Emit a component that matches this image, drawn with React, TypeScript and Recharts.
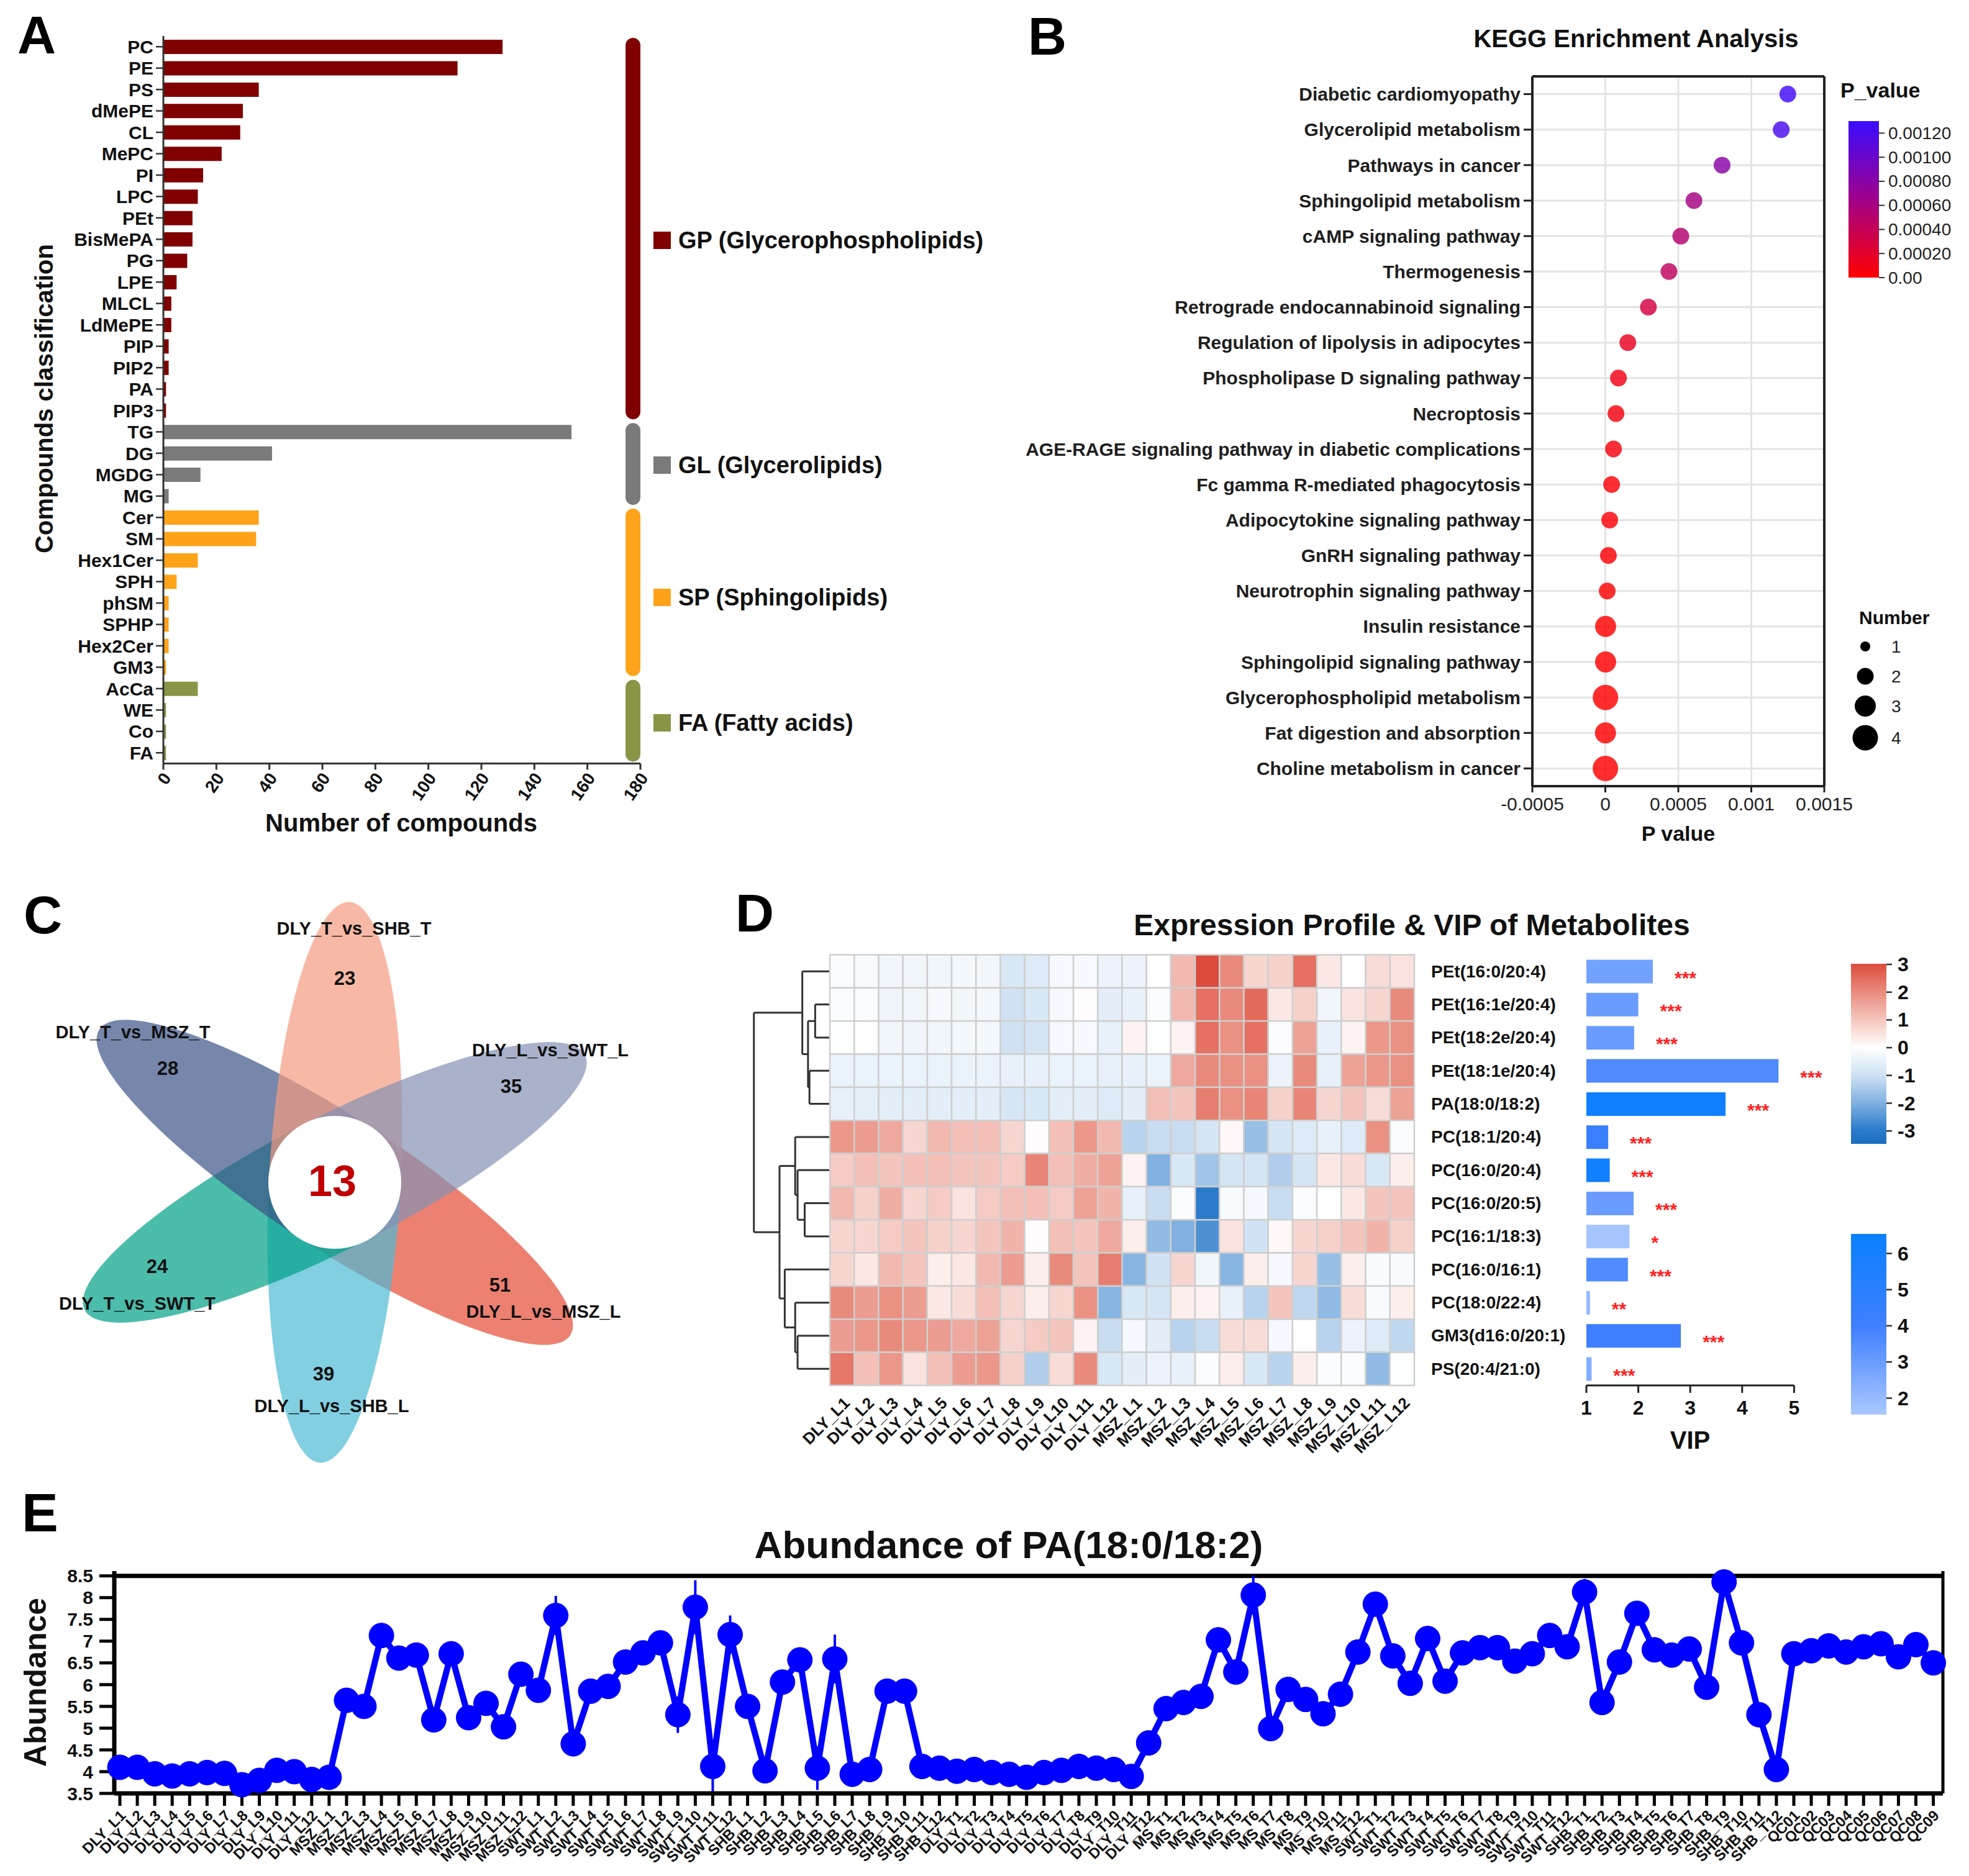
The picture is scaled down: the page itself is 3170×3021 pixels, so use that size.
import React from 'react';
import {
  BarChart, Bar, XAxis, YAxis, Cell, ReferenceArea, ReferenceLine,
  ScatterChart, Scatter, CartesianGrid, LineChart, Line, LabelList, ErrorBar,
} from 'recharts';

const FONT = '"Liberation Sans", Arial, Helvetica, sans-serif';

/* ---------------- colour helpers ---------------- */
type Stop = [number, string];
const hexToRgb = (h: string) => [1, 3, 5].map((k) => parseInt(h.slice(k, k + 2), 16));
const rgbToHex = (c: number[]) => '#' + c.map((v) => Math.round(Math.max(0, Math.min(255, v))).toString(16).padStart(2, '0')).join('');
function rampColor(stops: Stop[], v: number): string {
  if (v <= stops[0][0]) return stops[0][1];
  for (let i = 1; i < stops.length; i++) {
    if (v <= stops[i][0]) {
      const [v0, c0] = stops[i - 1];
      const [v1, c1] = stops[i];
      const t = (v - v0) / (v1 - v0);
      const a = hexToRgb(c0);
      const b = hexToRgb(c1);
      return rgbToHex(a.map((x, k) => x + (b[k] - x) * t));
    }
  }
  return stops[stops.length - 1][1];
}

/* ---------------- Panel A data ---------------- */
const classNames = ['PC', 'PE', 'PS', 'dMePE', 'CL', 'MePC', 'PI', 'LPC', 'PEt', 'BisMePA', 'PG', 'LPE', 'MLCL', 'LdMePE', 'PIP', 'PIP2', 'PA', 'PIP3',
  'TG', 'DG', 'MGDG', 'MG',
  'Cer', 'SM', 'Hex1Cer', 'SPH', 'phSM', 'SPHP', 'Hex2Cer', 'GM3',
  'AcCa', 'WE', 'Co', 'FA'];
const classCounts = [128, 111, 36, 30, 29, 22, 15, 13, 11, 11, 9, 5, 3, 3, 2, 2, 1, 1,
  154, 41, 14, 2,
  36, 35, 13, 5, 2, 2, 2, 1,
  13, 1, 1, 1];
const classGroup = ['GP', 'GP', 'GP', 'GP', 'GP', 'GP', 'GP', 'GP', 'GP', 'GP', 'GP', 'GP', 'GP', 'GP', 'GP', 'GP', 'GP', 'GP',
  'GL', 'GL', 'GL', 'GL',
  'SP', 'SP', 'SP', 'SP', 'SP', 'SP', 'SP', 'SP',
  'FA', 'FA', 'FA', 'FA'];
const groupKeys = ['GP', 'GL', 'SP', 'FA'];
const groupAbbr = ['GP', 'GL', 'SP', 'FA'];
const groupFull = ['(Glycerophospholipids)', '(Glycerolipids)', '(Sphingolipids)', '(Fatty acids)'];
const groupColors = ['#800000', '#7a7a7a', '#ffa31a', '#8a9446'];
const groupLegendY = [387, 749, 962, 1164];
const countTicks = [0, 20, 40, 60, 80, 100, 120, 140, 160, 180];

/* ---------------- Panel B data ---------------- */
const pathways = ['Diabetic cardiomyopathy', 'Glycerolipid metabolism', 'Pathways in cancer', 'Sphingolipid metabolism',
  'cAMP signaling pathway', 'Thermogenesis', 'Retrograde endocannabinoid signaling', 'Regulation of lipolysis in adipocytes',
  'Phospholipase D signaling pathway', 'Necroptosis', 'AGE-RAGE signaling pathway in diabetic complications',
  'Fc gamma R-mediated phagocytosis', 'Adipocytokine signaling pathway', 'GnRH signaling pathway',
  'Neurotrophin signaling pathway', 'Insulin resistance', 'Sphingolipid signaling pathway',
  'Glycerophospholipid metabolism', 'Fat digestion and absorption', 'Choline metabolism in cancer'];
const pValues = [0.00125, 0.001205, 0.0008, 0.000607, 0.000517, 0.000436, 0.000295, 0.000154, 0.00009, 0.000073,
  0.000056, 0.000043, 0.00003, 0.000021, 0.000013, 0.000002, 0.000002, 0.000001, 0.000001, 0.0000005];
const hitNumbers = [2, 2, 2, 2, 2, 2, 2, 2, 2, 2, 2, 2, 2, 2, 2, 3, 3, 4, 3, 4];
const pTicks = [-0.0005, 0, 0.0005, 0.001, 0.0015];
const pLegendTicks = [0.0012, 0.001, 0.0008, 0.0006, 0.0004, 0.0002, 0];
const pLegendLabels = ['0.00120', '0.00100', '0.00080', '0.00060', '0.00040', '0.00020', '0.00'];
const numberLegend = [1, 2, 3, 4];
const numberRadius = [0, 8, 13.5, 17, 20.5];
const pStops: Stop[] = [[0, '#ff0000'], [0.00065, '#a0008a'], [0.0013, '#3a0cff']];

/* ---------------- Panel C data (drawn bottom → top) ---------------- */
const vennSets = ['DLY_L_vs_MSZ_L', 'DLY_L_vs_SHB_L', 'DLY_T_vs_SWT_T', 'DLY_T_vs_MSZ_T', 'DLY_T_vs_SHB_T', 'DLY_L_vs_SWT_L'];
const vennUnique = [51, 39, 24, 28, 23, 35];
const vennCore = 13;
const vennColors = ['#E64B35', '#4DBBD5', '#00A087', '#3C5488', '#F39B7F', '#8491B4'];
const vennAngles = [33, 93, 153, 213, -87, -27];
const vennLabelPos = [[875, 2112], [534, 2264], [221, 2099], [214, 1662], [570, 1495], [886, 1691]];
const vennCountPos = [[805, 2069], [521, 2212], [253, 2039], [270, 1720], [555, 1575], [823, 1749]];

/* ---------------- Panel D data ---------------- */
const heatRows = ['PEt(16:0/20:4)', 'PEt(16:1e/20:4)', 'PEt(18:2e/20:4)', 'PEt(18:1e/20:4)', 'PA(18:0/18:2)',
  'PC(18:1/20:4)', 'PC(16:0/20:4)', 'PC(16:0/20:5)', 'PC(16:1/18:3)', 'PC(16:0/16:1)', 'PC(18:0/22:4)',
  'GM3(d16:0/20:1)', 'PS(20:4/21:0)'];
const heatCols = ['DLY_L1', 'DLY_L2', 'DLY_L3', 'DLY_L4', 'DLY_L5', 'DLY_L6', 'DLY_L7', 'DLY_L8', 'DLY_L9', 'DLY_L10', 'DLY_L11', 'DLY_L12',
  'MSZ_L1', 'MSZ_L2', 'MSZ_L3', 'MSZ_L4', 'MSZ_L5', 'MSZ_L6', 'MSZ_L7', 'MSZ_L8', 'MSZ_L9', 'MSZ_L10', 'MSZ_L11', 'MSZ_L12'];
const heatValues = [
  [-0.1, -0.15, -0.3, -0.3, -0.3, -0.25, -0.3, -0.8, -0.7, -0.2, -0.2, -0.4, -0.4, 0, 1.2, 3.0, 2.0, 0.7, 0.8, 2.4, 0.4, 0, 0.6, 0.5],
  [-0.1, -0.1, -0.35, -0.3, -0.2, -0.3, -0.25, -1.0, -0.8, -0.2, 0.05, -0.6, -0.5, -0.1, 1.2, 2.4, 2.0, 2.5, 0.4, 0.8, -0.3, 0.5, 0.7, 2.0],
  [-0.05, 0, -0.3, -0.35, -0.3, -0.25, -0.25, -1.0, -0.9, -0.2, -0.2, -0.5, 0.2, -0.05, 0.2, 2.4, 1.9, 2.4, -0.1, 1.6, -0.5, 0.2, 1.8, 1.9],
  [-0.45, -0.45, -0.45, -0.45, -0.45, -0.45, -0.45, -0.5, -0.5, -0.45, -0.45, -0.5, -0.5, -0.45, 1.5, 2.0, 1.9, 1.9, -0.4, 2.0, -0.5, 1.6, 1.8, 1.9],
  [-0.5, -0.55, -0.6, -0.6, -0.6, -0.6, -0.6, -0.85, -0.8, -0.6, -0.6, -0.7, -0.6, 1.1, 1.0, 2.2, 1.9, 2.1, 0.8, 2.1, 0.7, 1.0, 0.6, 1.6],
  [1.8, 1.7, 1.5, 0.7, 1.2, 1.1, 1.1, 0.7, 0.05, 1.1, 1.8, 1.2, -1.3, -1.1, -1.1, -0.9, 0.1, -1.7, -0.9, -0.7, -0.5, -0.7, 1.9, -0.1],
  [0.9, 1.1, 1.0, 1.1, 1.1, 1.0, 1.0, 0.9, 2.1, 1.1, 1.4, 1.6, 0.2, -2.0, -0.8, -1.6, -0.9, -0.9, -1.4, -0.9, 0.4, 0.6, -0.8, 0.3],
  [1.2, 0.8, 1.4, 0.7, 0.9, 0.5, 0.9, 1.1, 1.1, 0.9, 1.6, 1.3, -0.5, -1.1, -0.1, -3.0, -0.15, -0.2, -1.1, -0.1, 0, 0.4, 1.0, 1.0],
  [0.7, 0.7, 0.9, 1.0, 0.8, 0.7, 1.0, 1.3, 0.05, 1.1, 1.0, 1.5, 0.3, -1.8, -2.0, -2.6, 0.5, -1.0, 0.1, 0.7, 0.8, 1.0, 1.3, 0.8],
  [0.7, 0.4, 1.2, 1.0, 0.3, 0.4, 1.2, 1.7, 0.3, 2.0, 1.0, 2.2, -1.9, -1.0, 0.7, -0.3, -1.9, 0.3, -0.2, 0.7, -1.7, 0.3, -0.15, -0.15],
  [2.0, 1.7, 1.9, 1.7, 0.4, 0.6, 1.1, 0.7, 0.3, 0.7, 1.9, -1.9, -0.8, -0.9, 0.3, 0.2, -0.5, -1.3, 1.0, -1.2, -1.8, 0.6, -0.15, 0.3],
  [1.7, 1.8, 2.0, 1.8, 1.7, 1.5, 1.6, 0.7, 0.9, 1.0, 0.2, -1.1, -0.2, -0.6, -1.3, -1.1, 0.6, 0.6, -0.2, 0, -1.3, -0.4, -0.7, -1.2],
  [2.3, 1.1, 1.8, 0.5, 1.1, 1.7, 1.8, 0.8, -1.4, 0.6, 2.0, -0.8, -0.6, -0.4, -0.5, -0.1, 0.3, -0.8, -1.3, 0.3, -0.1, -0.1, -1.8, -0.05],
];
// hierarchical clustering of rows: children are leaf indices (numbers) or earlier merges ('m<k>'), dist = linkage height
const dendroMerges: { a: number | string; b: number | string; dist: number }[] = [
  { a: 1, b: 2, dist: 2.37 },
  { a: 3, b: 4, dist: 3.29 },
  { a: 'm0', b: 'm1', dist: 3.52 },
  { a: 0, b: 'm2', dist: 4.44 },
  { a: 7, b: 8, dist: 4.06 },
  { a: 6, b: 'm4', dist: 5.2 },
  { a: 5, b: 'm5', dist: 5.59 },
  { a: 11, b: 12, dist: 5.2 },
  { a: 10, b: 'm7', dist: 5.59 },
  { a: 9, b: 'm8', dist: 7.27 },
  { a: 'm6', b: 'm9', dist: 8.11 },
  { a: 'm3', b: 'm10', dist: 12.24 },
];
const heatStops: Stop[] = [[-3.5, '#1c6cbf'], [-3, '#2b7bca'], [-2, '#80b1e1'], [-1, '#d0e2f3'], [0, '#ffffff'], [1, '#f4c5bd'], [2, '#e98b7c'], [3, '#dc4b3c']];
const heatLegendTicks = [3, 2, 1, 0, -1, -2, -3];
const vipValues = [2.28, 2.0, 1.92, 4.7, 3.68, 1.42, 1.45, 1.91, 1.83, 1.8, 1.07, 2.82, 1.1];
const vipStars = ['***', '***', '***', '***', '***', '***', '***', '***', '*', '***', '**', '***', '***'];
const vipShade = [2.8, 3.0, 3.0, 3.6, 6.3, 4.3, 6.2, 3.0, 1.6, 3.6, 2.0, 4.0, 2.4];
const vipTicks = [1, 2, 3, 4, 5];
const vipStops: Stop[] = [[1.5, '#aac8ff'], [4, '#3f7fff'], [6.5, '#0a80ff']];
const vipLegendTicks = [6, 5, 4, 3, 2];

/* ---------------- Panel E data ---------------- */
const eGroupNames = ['DLY_L', 'MSZ_L', 'SWT_L', 'SHB_L', 'DLY_T', 'MS_T', 'SWT_T', 'SHB_T'];
const eSampleNums = [1, 2, 3, 4, 5, 6, 7, 8, 9, 10, 11, 12];
const eQCNames = ['QC01', 'QC02', 'QC03', 'QC04', 'QC05', 'QC06', 'QC07', 'QC08', 'QC09'];
const eDLY_L = [4.1, 4.1, 3.95, 3.9, 3.95, 3.98, 3.96, 3.7, 3.8, 4.03, 4.0, 3.82];
const eMSZ_L = [3.87, 5.64, 5.5, 7.13, 6.61, 6.68, 5.19, 6.71, 5.24, 5.57, 5.03, 6.24];
const eSWT_L = [5.87, 7.59, 4.64, 5.85, 5.96, 6.52, 6.73, 6.96, 5.31, 7.78, 4.12, 7.15];
const eSHB_L = [5.5, 4.02, 6.06, 6.57, 4.08, 6.59, 3.94, 4.05, 5.85, 5.85, 4.12, 4.08];
const eDLY_T = [4.01, 4.05, 3.98, 3.94, 3.87, 3.98, 4.03, 4.12, 4.08, 4.05, 3.89, 4.66];
const eMS_T = [5.45, 5.59, 5.73, 7.03, 6.29, 8.06, 4.99, 5.89, 5.66, 5.33, 5.78, 6.75];
const eSWT_T = [7.85, 6.66, 6.03, 7.06, 6.08, 6.73, 6.85, 6.85, 6.54, 6.71, 7.13, 6.87];
const eSHB_T = [8.13, 5.59, 6.52, 7.64, 6.8, 6.68, 6.82, 5.94, 8.36, 6.96, 5.31, 4.05];
const eQC = [6.71, 6.78, 6.89, 6.75, 6.87, 6.94, 6.64, 6.92, 6.5];
const eErrors: Record<number, number> = { 7: 0.2, 8: 0.25, 25: 0.45, 32: 0.42, 33: 0.62, 34: 0.6, 35: 0.44, 40: 0.5, 41: 0.56, 65: 0.45, 84: 0.3, 92: 0.25 };
const eYTicks = [3.5, 4, 4.5, 5, 5.5, 6, 6.5, 7, 7.5, 8, 8.5];

/* ---------------- derived tables ---------------- */
const aData = classNames.map((name, i) => ({ name, value: classCounts[i], group: classGroup[i] }));
const bData = pathways.map((name, i) => ({ name, x: pValues[i], y: i, n: hitNumbers[i] }));
const heatData = heatValues.flatMap((row, r) => row.map((v, c) => ({ x: c + 0.5, y: r + 0.5, v })));
const heatColTicks = heatCols.map((_, c) => c + 0.5);
const vipData = heatRows.map((name, i) => ({ name, vip: vipValues[i], stars: vipStars[i], shade: vipShade[i] }));
const eLabels: string[] = [];
eGroupNames.forEach((g) => eSampleNums.forEach((n) => eLabels.push(g + n)));
eQCNames.forEach((q) => eLabels.push(q));
const eValues = [...eDLY_L, ...eMSZ_L, ...eSWT_L, ...eSHB_L, ...eDLY_T, ...eMS_T, ...eSWT_T, ...eSHB_T, ...eQC];
const eData = eValues.map((v, i) => ({ i, v, err: eErrors[i] ?? 0 }));
const eXTicks = eValues.map((_, i) => i);

// dendrogram segments in heat-chart data units (x < 0 is left of the heatmap)
const DENDRO_SPAN = 3.12;
const maxDist = Math.max(...dendroMerges.map((m) => m.dist));
const dendroSegments: { x1: number; y1: number; x2: number; y2: number }[] = [];
(() => {
  const pos: { x: number; y: number }[] = [];
  const nodeOf = (k: number | string) => (typeof k === 'number' ? { x: 0, y: k + 0.5 } : pos[parseInt(k.slice(1), 10)]);
  dendroMerges.forEach((m) => {
    const A = nodeOf(m.a);
    const B = nodeOf(m.b);
    const hx = -(m.dist / maxDist) * DENDRO_SPAN;
    dendroSegments.push({ x1: hx, y1: A.y, x2: hx, y2: B.y });
    dendroSegments.push({ x1: A.x, y1: A.y, x2: hx, y2: A.y });
    dendroSegments.push({ x1: B.x, y1: B.y, x2: hx, y2: B.y });
    pos.push({ x: hx, y: (A.y + B.y) / 2 });
  });
})();

/* ---------------- layout constants ---------------- */
const HEAT_W = 1150;
const HEAT_H = 960;
const HEAT_MARGIN = { top: 117.5, right: 23, bottom: 19, left: 60.6 };
const HEAT_XAXIS_H = 130;
const HEAT_DOMAIN: [number, number] = [-3.2, 24];
const CELL_W = (HEAT_W - HEAT_MARGIN.left - HEAT_MARGIN.right) / (HEAT_DOMAIN[1] - HEAT_DOMAIN[0]);
const CELL_H = (HEAT_H - HEAT_MARGIN.top - HEAT_MARGIN.bottom - HEAT_XAXIS_H) / heatRows.length;

/* ---------------- tick renderers ---------------- */
const ATick = (p: any) => {
  const x = p.x + 6;
  const y = p.y + 4;
  return (
    <text x={x} y={y} transform={`rotate(-55 ${x} ${y})`} textAnchor="end" dominantBaseline="central"
      fontSize={28} fontWeight="bold" fill="#111" fontFamily={FONT}>{p.payload.value}</text>
  );
};
const HeatTick = (p: any) => {
  const idx = Math.round(p.payload.value - 0.5);
  const x = p.x + 14;
  const y = p.y + 30;
  return (
    <text x={x} y={y} transform={`rotate(-45 ${x} ${y})`} textAnchor="end" fontSize={26} fontWeight="bold" fill="#111" fontFamily={FONT}>
      {heatCols[idx]}
    </text>
  );
};
const VipRowTick = (p: any) => (
  <text x={14} y={p.y} dominantBaseline="central" textAnchor="start" fontSize={28} fontWeight="bold" fill="#111" fontFamily={FONT}>
    {p.payload.value}
  </text>
);
const ETick = (p: any) => {
  const x = p.x + 11;
  const y = p.y + 13;
  return (
    <text x={x} y={y} transform={`rotate(-45 ${x} ${y})`} textAnchor="end" fontSize={24} fontWeight="bold" fill="#111" fontFamily={FONT}>
      {eLabels[p.payload.value]}
    </text>
  );
};

/* ---------------- shapes ---------------- */
const pillShape = (color: string) => (p: any) => {
  const inset = 3;
  const h = Math.max(0, p.height - inset * 2);
  return <rect x={p.x} y={p.y + inset} width={p.width} height={h} rx={p.width / 2} ry={p.width / 2} fill={color} />;
};
const bDot = (p: any) => {
  const n = p.payload?.n ?? 2;
  const r = numberRadius[n];
  return <circle cx={p.cx} cy={p.cy} r={r} fill={rampColor(pStops, p.payload.x)} fillOpacity={0.82} />;
};
const heatCell = (p: any) => (
  <rect x={p.cx - CELL_W / 2} y={p.cy - CELL_H / 2} width={CELL_W} height={CELL_H}
    fill={rampColor(heatStops, p.payload.v)} stroke="#cfcfcf" strokeWidth={2.5} />
);
const StarLabel = (p: any) => (
  <text x={p.x + p.width + 35} y={p.y + p.height / 2 + 20} fill="#ff2020" fontSize={30} fontWeight="bold" fontFamily={FONT}>
    {p.value}
  </text>
);

/* ---------------- panels ---------------- */
function PanelA() {
  return (
    <div style={{ position: 'absolute', left: 0, top: 0 }}>
      <BarChart width={1100} height={1400} data={aData} layout="vertical" margin={{ top: 58, right: 69, bottom: 70.5, left: 0 }}>
        <XAxis type="number" domain={[0, 180]} ticks={countTicks} interval={0} height={100}
          axisLine={{ stroke: '#333', strokeWidth: 3 }} tickLine={{ stroke: '#333', strokeWidth: 3 }} tickSize={10} tickMargin={4}
          tick={ATick} />
        <YAxis type="category" dataKey="name" width={263} interval={0}
          axisLine={{ stroke: '#333', strokeWidth: 3 }} tickLine={{ stroke: '#333', strokeWidth: 2.5 }} tickSize={12} tickMargin={4}
          tick={{ fontSize: 30, fontWeight: 'bold', fill: '#111', fontFamily: FONT }} />
        {groupKeys.map((g, gi) => {
          const members = classNames.filter((_, i) => classGroup[i] === g);
          return (
            <ReferenceArea key={g} x1={174.4} x2={180} y1={members[0]} y2={members[members.length - 1]}
              ifOverflow="visible" shape={pillShape(groupColors[gi])} />
          );
        })}
        <Bar dataKey="value" barSize={23} isAnimationActive={false}>
          {aData.map((d, i) => (
            <Cell key={i} fill={groupColors[groupKeys.indexOf(d.group)]} />
          ))}
        </Bar>
      </BarChart>
    </div>
  );
}

function PanelB() {
  return (
    <div style={{ position: 'absolute', left: 1600, top: 0 }}>
      <ScatterChart width={1570} height={1400} margin={{ top: 123, right: 233, bottom: 64, left: 0 }}>
        <CartesianGrid stroke="#e4e4e4" strokeWidth={3} />
        <XAxis type="number" dataKey="x" domain={[-0.0005, 0.0015]} ticks={pTicks} interval={0} height={70}
          tickFormatter={(v: number) => String(v)}
          axisLine={{ stroke: '#222', strokeWidth: 4 }} tickLine={{ stroke: '#222', strokeWidth: 3 }} tickSize={10} tickMargin={8}
          tick={{ fontSize: 30, fill: '#222', fontFamily: FONT }} />
        <YAxis type="number" dataKey="y" domain={[-0.5, 19.5]} reversed ticks={pathways.map((_, i) => i)} interval={0} width={867}
          tickFormatter={(v: number) => pathways[Math.round(v)] ?? ''}
          axisLine={{ stroke: '#222', strokeWidth: 4 }} tickLine={{ stroke: '#222', strokeWidth: 3 }} tickSize={14} tickMargin={5}
          tick={{ fontSize: 30, fontWeight: 'bold', fill: '#1e1e1e', fontFamily: FONT }} />
        <ReferenceLine y={-0.5} stroke="#222" strokeWidth={4} ifOverflow="visible" />
        <ReferenceLine x={0.0015} stroke="#222" strokeWidth={4} ifOverflow="visible" />
        <Scatter data={bData} shape={bDot} isAnimationActive={false} />
      </ScatterChart>
    </div>
  );
}

function PanelDHeat() {
  return (
    <div style={{ position: 'absolute', left: 1150, top: 1420 }}>
      <ScatterChart width={HEAT_W} height={HEAT_H} margin={HEAT_MARGIN}>
        <XAxis type="number" dataKey="x" domain={HEAT_DOMAIN} ticks={heatColTicks} interval={0} height={HEAT_XAXIS_H}
          axisLine={false} tickLine={false} tickSize={0} tickMargin={0} tick={HeatTick} />
        <YAxis type="number" dataKey="y" domain={[0, heatRows.length]} reversed width={0} axisLine={false} tickLine={false} tick={false} />
        <Scatter data={heatData} shape={heatCell} isAnimationActive={false} />
        {dendroSegments.map((s, i) => (
          <ReferenceLine key={i} segment={[{ x: s.x1, y: s.y1 }, { x: s.x2, y: s.y2 }]} stroke="#333" strokeWidth={3} ifOverflow="visible" />
        ))}
      </ScatterChart>
    </div>
  );
}

function PanelDVip() {
  return (
    <div style={{ position: 'absolute', left: 2290, top: 1420 }}>
      <BarChart width={720} height={960} data={vipData} layout="vertical" margin={{ top: 117.5, right: 121.6, bottom: 49, left: 0 }}>
        <XAxis type="number" domain={[1, 5]} ticks={vipTicks} interval={0} height={100}
          axisLine={{ stroke: '#222', strokeWidth: 3 }} tickLine={{ stroke: '#222', strokeWidth: 3 }} tickSize={12} tickMargin={12}
          tick={{ fontSize: 32, fontWeight: 'bold', fill: '#111', fontFamily: FONT }} />
        <YAxis type="category" dataKey="name" width={264} interval={0} axisLine={false} tickLine={false} tick={VipRowTick} />
        <Bar dataKey="vip" barSize={38} isAnimationActive={false}>
          {vipData.map((d, i) => (
            <Cell key={i} fill={rampColor(vipStops, d.shade)} />
          ))}
          <LabelList dataKey="stars" content={StarLabel} />
        </Bar>
      </BarChart>
    </div>
  );
}

function PanelE() {
  return (
    <div style={{ position: 'absolute', left: 0, top: 2380 }}>
      <LineChart width={3170} height={641} data={eData} margin={{ top: 150, right: 42, bottom: 8, left: 0 }}>
        <XAxis type="number" dataKey="i" domain={[-0.32, 104.55]} ticks={eXTicks} interval={0} height={125}
          axisLine={{ stroke: '#000', strokeWidth: 7 }} tickLine={{ stroke: '#000', strokeWidth: 5 }} tickSize={20} tickMargin={4}
          tick={ETick} />
        <YAxis type="number" domain={[3.5, 8.5]} ticks={eYTicks} interval={0} width={184}
          tickFormatter={(v: number) => String(v)}
          axisLine={{ stroke: '#000', strokeWidth: 7 }} tickLine={{ stroke: '#000', strokeWidth: 5 }} tickSize={24} tickMargin={10}
          tick={{ fontSize: 30, fontWeight: 'bold', fill: '#111', fontFamily: FONT }} />
        <ReferenceLine y={8.5} stroke="#000" strokeWidth={7} ifOverflow="visible" />
        <ReferenceLine x={104.55} stroke="#000" strokeWidth={5} ifOverflow="visible" />
        <Line type="linear" dataKey="v" stroke="#0000ff" strokeWidth={10}
          dot={{ r: 20, fill: '#0000ff', stroke: '#0000ff', strokeWidth: 1 }} isAnimationActive={false}>
          <ErrorBar dataKey="err" direction="y" width={0} stroke="#0000ff" strokeWidth={4} />
        </Line>
      </LineChart>
    </div>
  );
}

/* ---------------- overlay: titles, legends, venn ---------------- */
function Overlay() {
  const heatTopY = 1553;
  const heatPerUnit = 44.7;
  const heatBar = { x: 2980, y: 1552, w: 57, h: 290 };
  const heatBarTopV = 3;
  const heatBarBotV = heatBarTopV - heatBar.h / heatPerUnit;
  const vipBar = { x: 2980, y: 1987, w: 57, h: 291 };
  const vipPerUnit = 58.25;
  const vipTopV = 6 + (2018.5 - vipBar.y) / vipPerUnit;
  const vipBotV = vipTopV - vipBar.h / vipPerUnit;
  const pBar = { x: 2976, y: 195, w: 49, h: 252 };
  const pTopV = 0.0013;
  const flower = { cx: 539, cy: 1904 };
  const petal = { a: 452, b: 106 };
  return (
    <svg width={3170} height={3021} style={{ position: 'absolute', left: 0, top: 0, pointerEvents: 'none' }} fontFamily={FONT}>
      <defs>
        <linearGradient id="pGrad" x1="0" y1="0" x2="0" y2="1">
          {[...pStops].reverse().map(([v, c], i) => (
            <stop key={i} offset={1 - v / pTopV} stopColor={c} />
          ))}
        </linearGradient>
        <linearGradient id="heatGrad" x1="0" y1="0" x2="0" y2="1">
          {[...heatStops].reverse().map(([v, c], i) => (
            <stop key={i} offset={Math.max(0, Math.min(1, (heatBarTopV - v) / (heatBarTopV - heatBarBotV)))} stopColor={c} />
          ))}
        </linearGradient>
        <linearGradient id="vipGrad" x1="0" y1="0" x2="0" y2="1">
          {[...vipStops].reverse().map(([v, c], i) => (
            <stop key={i} offset={Math.max(0, Math.min(1, (vipTopV - v) / (vipTopV - vipBotV)))} stopColor={c} />
          ))}
        </linearGradient>
      </defs>

      {/* panel letters */}
      <text x={28} y={86} fontSize={86} fontWeight="bold">A</text>
      <text x={1655} y={88} fontSize={86} fontWeight="bold">B</text>
      <text x={38} y={1503} fontSize={86} fontWeight="bold">C</text>
      <text x={1184} y={1500} fontSize={86} fontWeight="bold">D</text>
      <text x={35} y={2466} fontSize={88} fontWeight="bold">E</text>

      {/* Panel A */}
      <text x={85} y={642} transform="rotate(-90 85 642)" textAnchor="middle" fontSize={40} fontWeight="bold" fill="#111">Compounds classification</text>
      <text x={646} y={1339} textAnchor="middle" fontSize={40} fontWeight="bold" fill="#111">Number of compounds</text>
      {groupKeys.map((g, i) => (
        <g key={g}>
          <rect x={1052} y={groupLegendY[i] - 14} width={28} height={28} fill={groupColors[i]} />
          <text x={1092} y={groupLegendY[i] + 13} fontSize={38} fontWeight="bold" fill="#111">
            {groupAbbr[i]} {groupFull[i]}
          </text>
        </g>
      ))}

      {/* Panel B */}
      <text x={2634} y={76} textAnchor="middle" fontSize={40} fontWeight="bold" fill="#111">KEGG Enrichment Analysis</text>
      <text x={2702} y={1354} textAnchor="middle" fontSize={34} fontWeight="bold" fill="#111">P value</text>
      <text x={2963} y={157} fontSize={34} fontWeight="bold" fill="#111">P_value</text>
      <rect x={pBar.x} y={pBar.y} width={pBar.w} height={pBar.h} fill="url(#pGrad)" />
      {pLegendTicks.map((v, i) => {
        const y = pBar.y + (1 - v / pTopV) * pBar.h;
        return (
          <g key={i}>
            <line x1={pBar.x + pBar.w} x2={pBar.x + pBar.w + 9} y1={y} y2={y} stroke="#333" strokeWidth={2} />
            <text x={3040} y={y} dominantBaseline="central" fontSize={28} fill="#222">{pLegendLabels[i]}</text>
          </g>
        );
      })}
      <text x={2993} y={1005} fontSize={30} fontWeight="bold" fill="#111">Number</text>
      {numberLegend.map((n, i) => {
        const cy = [1041, 1089, 1137, 1188][i];
        return (
          <g key={n}>
            <circle cx={3003} cy={cy} r={numberRadius[n]} fill="#000" />
            <text x={3045} y={cy} dominantBaseline="central" fontSize={28} fill="#222">{n}</text>
          </g>
        );
      })}

      {/* Panel C: flower venn, each petal is the outer half of an ellipse centred on the core */}
      {vennAngles.map((ang, i) => (
        <path key={i}
          d={`M 0 ${-petal.b} A ${petal.a} ${petal.b} 0 0 1 0 ${petal.b} Z`}
          transform={`translate(${flower.cx} ${flower.cy}) rotate(${ang})`}
          fill={vennColors[i]} fillOpacity={0.7} />
      ))}
      <circle cx={flower.cx} cy={flower.cy} r={107} fill="#fff" />
      <text x={535} y={1926} textAnchor="middle" fontSize={70} fontWeight="bold" fill="#c00000">{vennCore}</text>
      {vennSets.map((s, i) => (
        <g key={s}>
          <text x={vennLabelPos[i][0]} y={vennLabelPos[i][1] + 10} textAnchor="middle" fontSize={29} fontWeight="bold" fill="#111">{s}</text>
          <text x={vennCountPos[i][0]} y={vennCountPos[i][1] + 11} textAnchor="middle" fontSize={31} fontWeight="bold" fill="#111">{vennUnique[i]}</text>
        </g>
      ))}

      {/* Panel D */}
      <text x={2273} y={1506} textAnchor="middle" fontSize={48} fontWeight="bold" fill="#111">Expression Profile &amp; VIP of Metabolites</text>
      <text x={2721} y={2333} textAnchor="middle" fontSize={40} fontWeight="bold" fill="#111">VIP</text>
      <rect x={heatBar.x} y={heatBar.y} width={heatBar.w} height={heatBar.h} fill="url(#heatGrad)" />
      {heatLegendTicks.map((v) => {
        const y = heatTopY + (3 - v) * heatPerUnit;
        return (
          <g key={v}>
            <line x1={heatBar.x + heatBar.w} x2={heatBar.x + heatBar.w + 9} y1={y} y2={y} stroke="#333" strokeWidth={2.5} />
            <text x={3055} y={y} dominantBaseline="central" fontSize={32} fontWeight="bold" fill="#111">{String(v)}</text>
          </g>
        );
      })}
      <rect x={vipBar.x} y={vipBar.y} width={vipBar.w} height={vipBar.h} fill="url(#vipGrad)" />
      {vipLegendTicks.map((v) => {
        const y = vipBar.y + (vipTopV - v) * vipPerUnit;
        return (
          <g key={v}>
            <line x1={vipBar.x + vipBar.w} x2={vipBar.x + vipBar.w + 9} y1={y} y2={y} stroke="#333" strokeWidth={2.5} />
            <text x={3055} y={y} dominantBaseline="central" fontSize={32} fontWeight="bold" fill="#111">{String(v)}</text>
          </g>
        );
      })}

      {/* Panel E */}
      <text x={1624} y={2509} textAnchor="middle" fontSize={62} fontWeight="bold" fill="#111">Abundance of PA(18:0/18:2)</text>
      <text x={74} y={2709} transform="rotate(-90 74 2709)" textAnchor="middle" fontSize={50} fontWeight="bold" fill="#111">Abundance</text>
    </svg>
  );
}

export default function App() {
  return (
    <div style={{ position: 'absolute', left: 0, top: 0, width: 3170, height: 3021, background: '#fff', overflow: 'hidden', fontFamily: FONT }}>
      <PanelA />
      <PanelB />
      <PanelDHeat />
      <PanelDVip />
      <PanelE />
      <Overlay />
    </div>
  );
}
